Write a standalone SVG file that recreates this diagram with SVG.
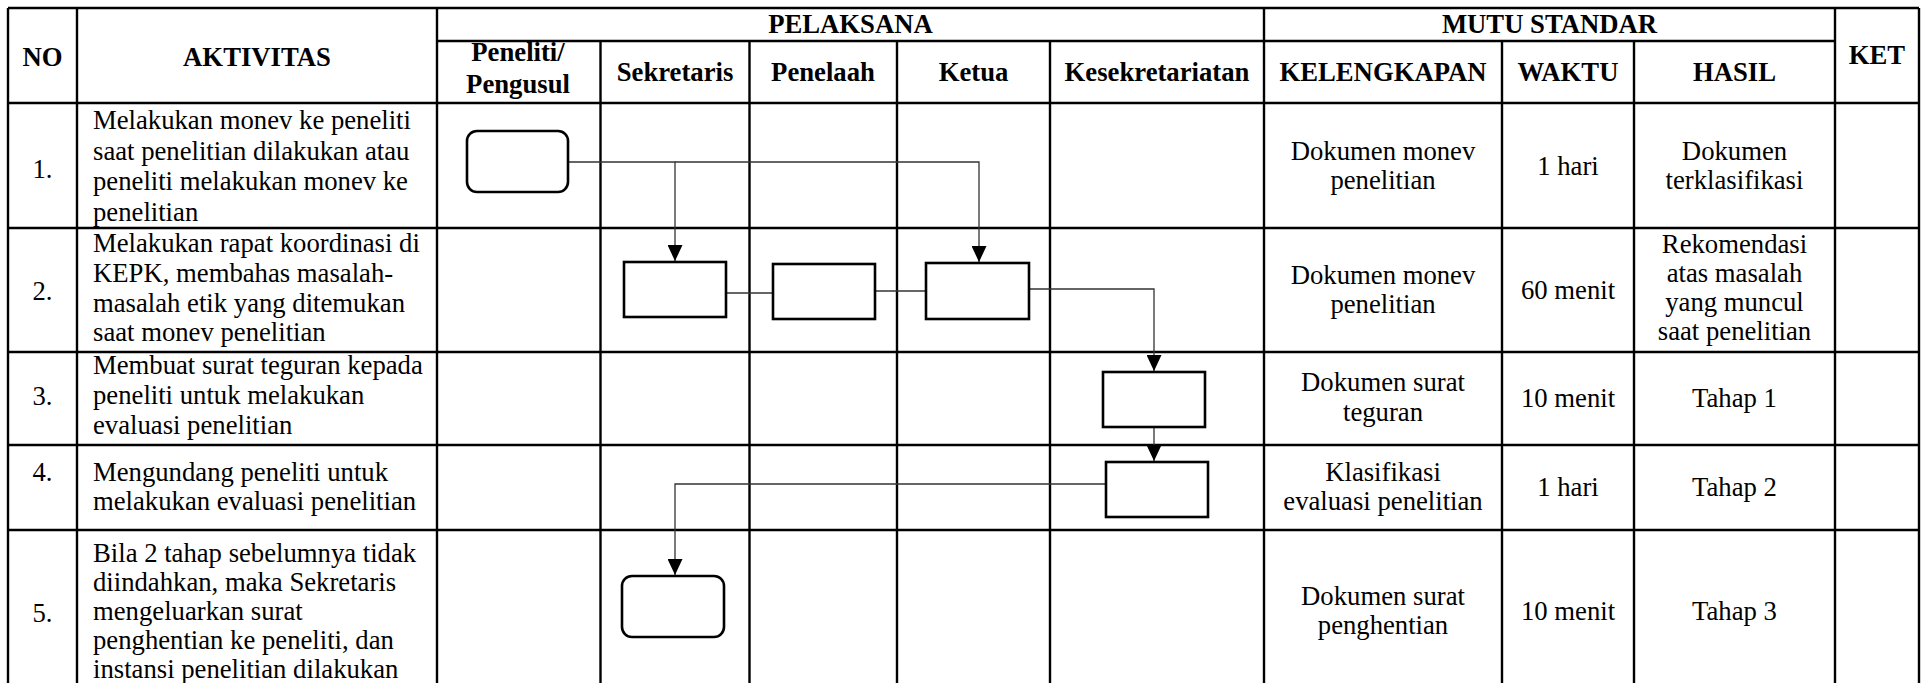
<svg xmlns="http://www.w3.org/2000/svg" width="1926" height="683" viewBox="0 0 1926 683">
<style>
  .grid line { stroke: #000; stroke-width: 2.4; }
  text { font-family: "Liberation Serif", "Times New Roman", serif; font-size: 26.7px; fill: #000; }
  .h { font-weight: bold; }
  .c { text-anchor: middle; }
  .box { fill: #fff; stroke: #000; stroke-width: 2.6; }
  .conn { fill: none; stroke: #333; stroke-width: 1.3; }
</style>
<defs>
  <marker id="arr" viewBox="0 0 16 15" refX="16" refY="7.5" markerWidth="16" markerHeight="15" markerUnits="userSpaceOnUse" orient="auto">
    <path d="M0,0 L16,7.5 L0,15 z" fill="#000"/>
  </marker>
</defs>
<rect x="0" y="0" width="1926" height="683" fill="#fff"/>

<g id="table" class="grid">
  <line x1="8" y1="8" x2="1919" y2="8"/>
  <line x1="437" y1="41" x2="1835" y2="41"/>
  <line x1="8" y1="103" x2="1919" y2="103"/>
  <line x1="8" y1="228" x2="1919" y2="228"/>
  <line x1="8" y1="352" x2="1919" y2="352"/>
  <line x1="8" y1="445" x2="1919" y2="445"/>
  <line x1="8" y1="530" x2="1919" y2="530"/>
  <line x1="8" y1="8" x2="8" y2="683"/>
  <line x1="77" y1="8" x2="77" y2="683"/>
  <line x1="437" y1="8" x2="437" y2="683"/>
  <line x1="1264" y1="8" x2="1264" y2="683"/>
  <line x1="1835" y1="8" x2="1835" y2="683"/>
  <line x1="1919" y1="8" x2="1919" y2="683"/>
  <line x1="600.5" y1="41" x2="600.5" y2="683"/>
  <line x1="749.5" y1="41" x2="749.5" y2="683"/>
  <line x1="897" y1="41" x2="897" y2="683"/>
  <line x1="1050" y1="41" x2="1050" y2="683"/>
  <line x1="1502" y1="41" x2="1502" y2="683"/>
  <line x1="1634" y1="41" x2="1634" y2="683"/>
</g>

<g id="headers" class="h c">
  <text class="h c" x="42.5" y="66">NO</text>
  <text class="h c" x="257" y="66">AKTIVITAS</text>
  <text class="h c" x="850.5" y="33">PELAKSANA</text>
  <text class="h c" x="1549.5" y="33">MUTU STANDAR</text>
  <text class="h c" x="1877" y="64">KET</text>
  <text class="h c" x="518" y="61">Peneliti/</text>
  <text class="h c" x="518" y="93">Pengusul</text>
  <text class="h c" x="675" y="81">Sekretaris</text>
  <text class="h c" x="823" y="81">Penelaah</text>
  <text class="h c" x="973.5" y="81">Ketua</text>
  <text class="h c" x="1157" y="81">Kesekretariatan</text>
  <text class="h c" x="1383" y="81">KELENGKAPAN</text>
  <text class="h c" x="1568" y="81">WAKTU</text>
  <text class="h c" x="1734.5" y="81">HASIL</text>
</g>

<g id="row1">
  <text class="c" x="42.5" y="178">1.</text>
  <text x="93" y="129">Melakukan monev ke peneliti</text>
  <text x="93" y="160">saat penelitian dilakukan atau</text>
  <text x="93" y="190">peneliti melakukan monev ke</text>
  <text x="93" y="221">penelitian</text>
  <text class="c" x="1383" y="160">Dokumen monev</text>
  <text class="c" x="1383" y="189">penelitian</text>
  <text class="c" x="1568" y="175">1 hari</text>
  <text class="c" x="1734.5" y="160">Dokumen</text>
  <text class="c" x="1734.5" y="189">terklasifikasi</text>
</g>

<g id="row2">
  <text class="c" x="42.5" y="300">2.</text>
  <text x="93" y="252">Melakukan rapat koordinasi di</text>
  <text x="93" y="282">KEPK, membahas masalah-</text>
  <text x="93" y="312">masalah etik yang ditemukan</text>
  <text x="93" y="341">saat monev penelitian</text>
  <text class="c" x="1383" y="284">Dokumen monev</text>
  <text class="c" x="1383" y="313">penelitian</text>
  <text class="c" x="1568" y="299">60 menit</text>
  <text class="c" x="1734.5" y="253">Rekomendasi</text>
  <text class="c" x="1734.5" y="282">atas masalah</text>
  <text class="c" x="1734.5" y="311">yang muncul</text>
  <text class="c" x="1734.5" y="340">saat penelitian</text>
</g>

<g id="row3">
  <text class="c" x="42.5" y="405">3.</text>
  <text x="93" y="374">Membuat surat teguran kepada</text>
  <text x="93" y="404">peneliti untuk melakukan</text>
  <text x="93" y="434">evaluasi penelitian</text>
  <text class="c" x="1383" y="391">Dokumen surat</text>
  <text class="c" x="1383" y="421">teguran</text>
  <text class="c" x="1568" y="407">10 menit</text>
  <text class="c" x="1734.5" y="407">Tahap 1</text>
</g>

<g id="row4">
  <text class="c" x="42.5" y="481">4.</text>
  <text x="93" y="481">Mengundang peneliti untuk</text>
  <text x="93" y="510">melakukan evaluasi penelitian</text>
  <text class="c" x="1383" y="481">Klasifikasi</text>
  <text class="c" x="1383" y="510">evaluasi penelitian</text>
  <text class="c" x="1568" y="496">1 hari</text>
  <text class="c" x="1734.5" y="496">Tahap 2</text>
</g>

<g id="row5">
  <text class="c" x="42.5" y="622">5.</text>
  <text x="93" y="562">Bila 2 tahap sebelumnya tidak</text>
  <text x="93" y="591">diindahkan, maka Sekretaris</text>
  <text x="93" y="620">mengeluarkan surat</text>
  <text x="93" y="649">penghentian ke peneliti, dan</text>
  <text x="93" y="678">instansi penelitian dilakukan</text>
  <text class="c" x="1383" y="605">Dokumen surat</text>
  <text class="c" x="1383" y="634">penghentian</text>
  <text class="c" x="1568" y="620">10 menit</text>
  <text class="c" x="1734.5" y="620">Tahap 3</text>
</g>

<g id="connectors">
  <path class="conn" d="M568,162 H675 V261" marker-end="url(#arr)"/>
  <path class="conn" d="M675,162 H979 V262" marker-end="url(#arr)"/>
  <path class="conn" d="M726,293 H773"/>
  <path class="conn" d="M875,291 H926"/>
  <path class="conn" d="M1029,289 H1154 V371" marker-end="url(#arr)"/>
  <path class="conn" d="M1154,427 V461" marker-end="url(#arr)"/>
  <path class="conn" d="M1106,484 H675 V575" marker-end="url(#arr)"/>
</g>

<g id="node-start">
  <rect class="box" x="467" y="131" width="101" height="61" rx="10" ry="10"/>
</g>
<g id="node-sekretaris-rapat">
  <rect class="box" x="624" y="262" width="102" height="55"/>
</g>
<g id="node-penelaah-rapat">
  <rect class="box" x="773" y="264" width="102" height="55"/>
</g>
<g id="node-ketua-rapat">
  <rect class="box" x="926" y="263" width="103" height="56"/>
</g>
<g id="node-surat-teguran">
  <rect class="box" x="1103" y="372" width="102" height="55"/>
</g>
<g id="node-undangan">
  <rect class="box" x="1106" y="462" width="102" height="55"/>
</g>
<g id="node-end">
  <rect class="box" x="622" y="576" width="102" height="61" rx="10" ry="10"/>
</g>
</svg>
